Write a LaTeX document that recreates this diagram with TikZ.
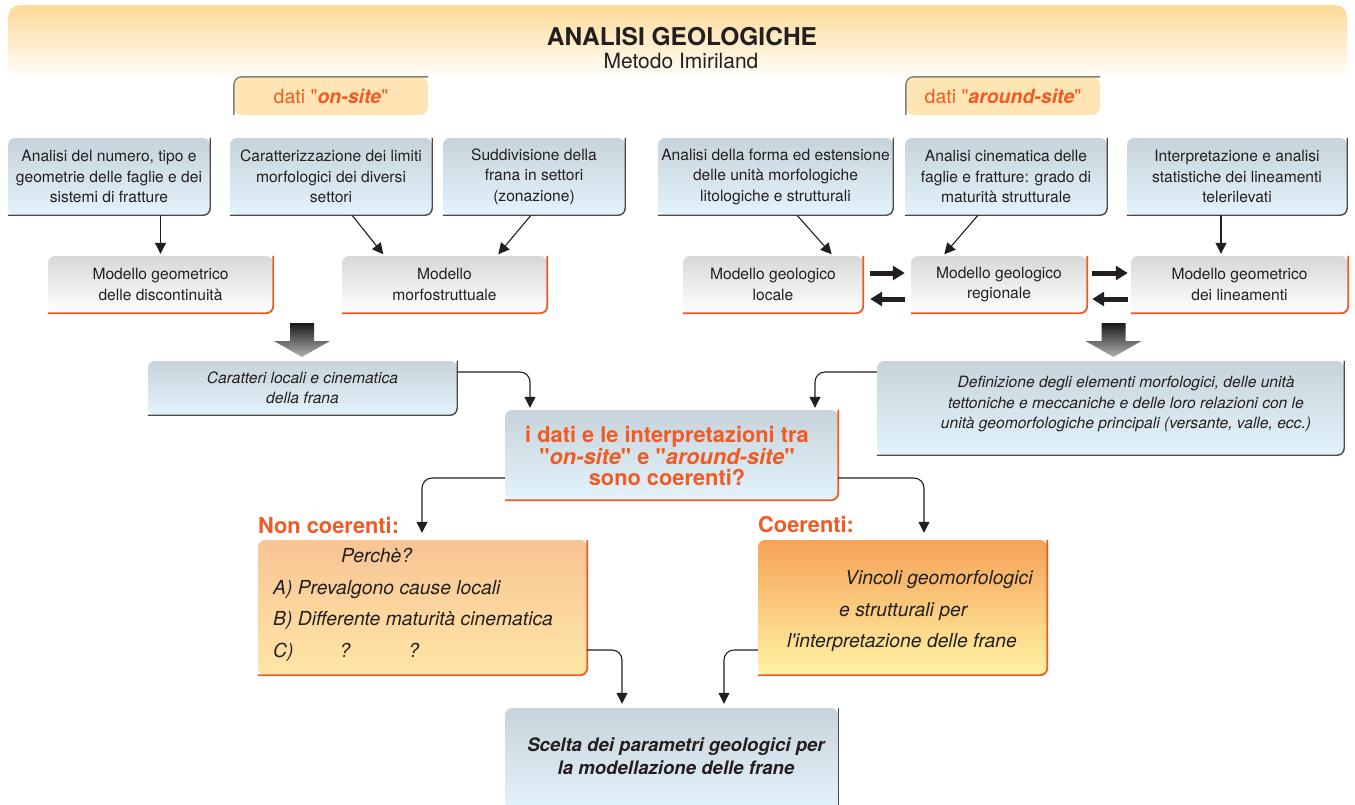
\documentclass[tikz,border=0pt]{standalone}
\usepackage{fontspec}
\setmainfont{TeX Gyre Heros}[Ligatures=TeXOff]
\usetikzlibrary{arrows.meta}
\definecolor{ink}{HTML}{231F20}
\definecolor{orng}{HTML}{F15A22}
\definecolor{blueTop}{HTML}{C7D3DB}
\definecolor{blueBot}{HTML}{E3F3FB}
\definecolor{greyTop}{HTML}{D8D8D8}
\definecolor{peachTop}{HTML}{F8C494}
\definecolor{peachBot}{HTML}{FFE6A6}
\definecolor{coerTop}{HTML}{F5A258}
\definecolor{coerBot}{HTML}{FFF3A4}
\definecolor{tabFill}{HTML}{FFE5B4}
\definecolor{banTop}{HTML}{FDDA96}
\definecolor{edge}{HTML}{4A4A4A}
\definecolor{tabEdge}{HTML}{808080}
\newcommand\fA{\fontsize{15.6}{20.5}\selectfont}
\newcommand\fI{\fontsize{15.6}{20.5}\selectfont\itshape}
\newcommand\fB{\fontsize{21.8}{21.5}\selectfont\bfseries}
\newcommand\fE{\fontsize{19.3}{31.5}\selectfont\itshape}
\newcommand\rbord[2]{\draw[#1, rounded corners=7pt] (#2.north east) -- (#2.south east) -- (#2.south west);}
\begin{document}
\begin{tikzpicture}[x=1pt,y=-1pt,
  box/.style={rounded corners=7pt, inner sep=0pt, align=center, text=ink, font=\fA},
  bluebox/.style={box, top color=blueTop, bottom color=blueBot},
  greybox/.style={box, top color=greyTop, bottom color=white},
  tabbox/.style={rounded corners=8pt, fill=tabFill, inner sep=0pt, text=orng, font=\fontsize{19.5}{22}\selectfont},
  dline/.style={draw=edge, line width=1.4pt},
  oline/.style={draw=orng, line width=1.8pt},
  tline/.style={draw=tabEdge, line width=1.4pt, rounded corners=8pt},
  arr/.style={draw=ink, line width=1.1pt, -{Triangle[length=11pt,width=11pt]}},
  carr/.style={arr, rounded corners=10pt},
  fat/.style={draw=ink, line width=5pt, -{Triangle[length=12pt,width=14pt]}},
  lab/.style={text=orng, font=\fB, inner sep=0pt}
]
\useasboundingbox (0,0) rectangle (1355,804);
\fill[white] (0,0) rectangle (1355,804);
% banner
\shade[top color=banTop, bottom color=white, rounded corners=12pt] (8,5) rectangle (1347,80);
\node[text=ink, font=\fontsize{24.5}{26}\selectfont\bfseries, inner sep=0pt] (title) at (682,37) {ANALISI GEOLOGICHE};
\node[text=ink, font=\fontsize{21}{23}\selectfont, inner sep=0pt] (subtitle) at (681,61) {Metodo Imiriland};
% tabs
\node[tabbox, minimum width=194pt, minimum height=38pt] (tabon) at (331,96) {dati "\textbf{\textit{on-site}}"};
\draw[tline] (tabon.south west) -- (tabon.north west) -- (tabon.north east);
\node[tabbox, minimum width=194pt, minimum height=38pt] (tabar) at (1003,96) {dati "\textbf{\textit{around-site}}"};
\draw[tline] (tabar.south west) -- (tabar.north west) -- (tabar.north east);
% row 1
\node[bluebox, minimum width=202pt, minimum height=77pt] (b1) at (109,176.5) {Analisi del numero, tipo e\\geometrie delle faglie e dei\\sistemi di fratture};
\node[bluebox, minimum width=202pt, minimum height=77pt] (b2) at (331,176.5) {Caratterizzazione dei limiti\\morfologici dei diversi\\settori};
\node[bluebox, minimum width=182pt, minimum height=77pt] (b3) at (534,176.5) {Suddivisione della\\frana in settori\\(zonazione)};
\node[bluebox, minimum width=235pt, minimum height=77pt] (b4) at (775.5,176.5) {Analisi della forma ed estensione\\delle unità morfologiche\\litologiche e strutturali};
\node[bluebox, minimum width=202pt, minimum height=77pt] (b5) at (1006,176.5) {Analisi cinematica delle\\faglie e fratture: grado di\\maturità strutturale};
\node[bluebox, minimum width=220pt, minimum height=77pt] (b6) at (1237,176.5) {Interpretazione e analisi\\statistiche dei lineamenti\\telerilevati};
\foreach \n in {b1,b2,b3,b4,b5,b6} {\rbord{dline}{\n}}
% row 2
\node[greybox, minimum width=225pt, minimum height=57pt] (m1) at (160.5,284.5) {Modello geometrico\\delle discontinuità};
\node[greybox, minimum width=205pt, minimum height=57pt] (m2) at (444.5,284.5) {Modello\\morfostruttuale};
\node[greybox, minimum width=180pt, minimum height=57pt] (m3) at (773,284.5) {Modello geologico\\locale};
\node[greybox, minimum width=176pt, minimum height=57pt] (m4) at (999,284.5) {Modello geologico\\regionale};
\node[greybox, minimum width=217pt, minimum height=57pt] (m5) at (1239.5,284.5) {Modello geometrico\\dei lineamenti};
\foreach \n in {m1,m2,m3,m4,m5} {\rbord{oline}{\n}}
% arrows row1 -> row2
\draw[arr, shorten >=2pt] (m1.north |- b1.south) -- (m1.north);
\draw[arr, shorten >=2pt] ([xshift=21pt]b2.south) -- ([xshift=-60pt]m2.north);
\draw[arr, shorten >=2pt] ([xshift=-3pt]b3.south) -- ([xshift=52.5pt]m2.north);
\draw[arr, shorten >=2pt] ([xshift=21.5pt]b4.south) -- ([xshift=60pt]m3.north);
\draw[arr, shorten >=2pt] ([xshift=-28pt]b5.south) -- ([xshift=-56pt]m4.north);
\draw[arr, shorten >=2pt] ([xshift=-16pt]b6.south) -- ([xshift=-18.5pt]m5.north);
% fat arrows between models
\draw[fat] ([shift={(7,-11.5)}]m3.east) -- ([shift={(-6,-11.5)}]m4.west);
\draw[fat] ([shift={(-6,14.5)}]m4.west) -- ([shift={(7,14.5)}]m3.east);
\draw[fat] ([shift={(5,-11.5)}]m4.east) -- ([shift={(-3,-11.5)}]m5.west);
\draw[fat] ([shift={(-3,14.5)}]m5.west) -- ([shift={(5,14.5)}]m4.east);
% big shaded down arrows
\foreach \x in {302,1113.5} {
  \shade[top color=black!90, bottom color=black!30]
    (\x-12,323) -- (\x+12,323) -- (\x+12,341) -- (\x+28,341) -- (\x,357) -- (\x-28,341) -- (\x-12,341) -- cycle;
}
% row 3
\node[bluebox, minimum width=309pt, minimum height=54pt, font=\fI] (c1) at (302.5,388) {Caratteri locali e cinematica\\della frana};
\rbord{dline}{c1}
\node[bluebox, minimum width=467pt, minimum height=94pt] (c2) at (1110.5,408) {};
\rbord{dline}{c2}
\node[align=center, text=ink, font=\fI, inner sep=0pt] (c2t) at (1126,404) {Definizione degli elementi morfologici, delle unità\\tettoniche e meccaniche e delle loro relazioni con le\\unità geomorfologiche principali (versante, valle, ecc.)};
% central question
\node[bluebox, minimum width=333pt, minimum height=90pt] (d) at (671.5,455) {};
\rbord{oline}{d}
\node[align=center, text=orng, font=\fB, inner sep=0pt] (dt) at (667,456) {i dati e le interpretazioni tra\\"\textit{on-site}" e "\textit{around-site}"\\sono coerenti?};
\draw[carr, shorten >=2pt] ([yshift=16pt]c1.east) -| ([xshift=-141.5pt]d.north);
\draw[carr, shorten >=2pt] ([yshift=36pt]c2.west) -| ([xshift=143.5pt]d.north);
% outcomes
\node[lab, anchor=west] (lnc) at (258,525) {Non coerenti:};
\node[lab, anchor=west] (lco) at (758,525) {Coerenti:};
\node[box, top color=peachTop, bottom color=peachBot, minimum width=329pt, minimum height=135pt] (e1) at (422.5,607.5) {};
\rbord{oline}{e1}
\node[align=left, text=ink, font=\fE, inner sep=0pt, anchor=west] (e1t) at (273,605) {\hspace*{68pt}Perchè?\\A) Prevalgono cause locali\\B) Differente maturità cinematica\\C)\hspace{46pt}?\hspace{58pt}?};
\node[box, top color=coerTop, bottom color=coerBot, minimum width=289pt, minimum height=135pt] (e2) at (902.5,607.5) {};
\rbord{oline}{e2}
\node[align=left, text=ink, font=\fE, inner sep=0pt, anchor=west] (e2t) at (787,611) {\hspace*{58pt}Vincoli geomorfologici\\\hspace*{52pt}e strutturali per\\l'interpretazione delle frane};
\draw[carr, shorten >=7pt] ([yshift=-23pt]d.west) -| ([xshift=-0.5pt]e1.north);
\draw[carr, shorten >=7pt] ([yshift=-23pt]d.east) -| ([xshift=21.5pt]e2.north);
% final
\node[bluebox, minimum width=333pt, minimum height=102pt] (f) at (671.5,759) {};
\draw[dline] (f.north east) -- (f.south east);
\node[align=center, text=ink, font=\fontsize{18.6}{23}\selectfont\bfseries\itshape, inner sep=0pt] (ft) at (676,756) {Scelta dei parametri geologici per\\la modellazione delle frane};
\draw[carr, shorten >=4pt] ([yshift=-42.5pt]e1.east) -| ([xshift=-49.5pt]f.north);
\draw[carr, shorten >=4pt] ([yshift=-42.5pt]e2.west) -| ([xshift=52.5pt]f.north);
\end{tikzpicture}
\end{document}
